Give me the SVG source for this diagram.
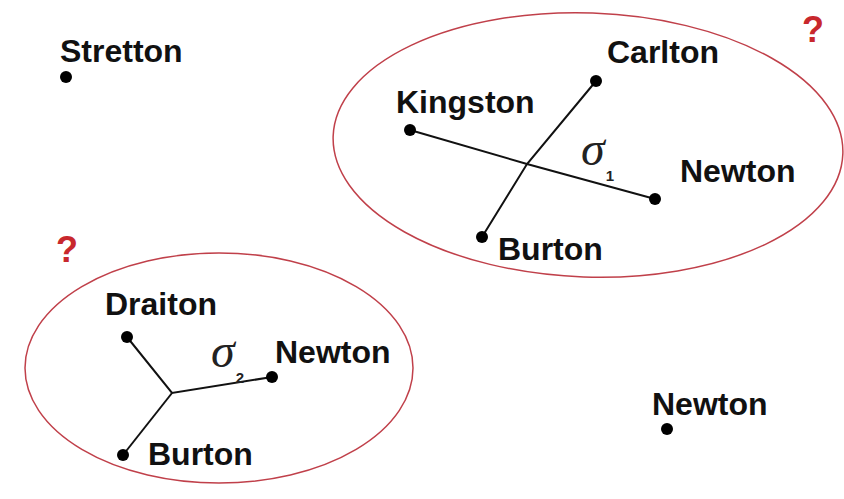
<svg xmlns="http://www.w3.org/2000/svg" width="844" height="499" viewBox="0 0 844 499">
<style>
.lbl{font-family:"Liberation Sans",Arial,sans-serif;font-weight:bold;font-size:32px;fill:#111}
.q{font-family:"Liberation Sans",Arial,sans-serif;font-weight:bold;font-size:36px;fill:#c8282d}
.sig{font-family:"Liberation Serif","Times New Roman",serif;font-style:italic;font-size:48px;fill:#222}
.sub{font-family:"Liberation Sans",Arial,sans-serif;font-size:15px;font-style:normal;font-weight:bold;fill:#222}
.dot{fill:#000}
.edge{fill:none;stroke:#111;stroke-width:2}
.grp{fill:none;stroke:#c0404a;stroke-width:1.5}
</style>
<rect width="844" height="499" fill="#fff"/>
<g id="groups">
<ellipse id="group1" class="grp" cx="588" cy="145" rx="255" ry="132" transform="rotate(2 588 145)"/>
<ellipse id="group2" class="grp" cx="219" cy="368" rx="194" ry="115"/>
<text class="q" x="802" y="42">?</text>
<text class="q" x="56" y="262">?</text>
</g>
<g id="connectors">
<polyline class="edge" points="410,130 527,164 655,199"/>
<polyline class="edge" points="596,81 527,164 482,237"/>
<polyline class="edge" points="127,337 172,393 272,377"/>
<polyline class="edge" points="172,393 123,455"/>
<text class="sig" x="581" y="165">σ<tspan class="sub" dx="1" dy="16">1</tspan></text>
<text class="sig" x="211" y="367">σ<tspan class="sub" dx="1" dy="16">2</tspan></text>
</g>
<g id="stretton"><circle class="dot" cx="66" cy="77" r="6"/><text class="lbl" x="60" y="62">Stretton</text></g>
<g id="carlton"><circle class="dot" cx="596" cy="81" r="6"/><text class="lbl" x="607" y="63">Carlton</text></g>
<g id="kingston"><circle class="dot" cx="410" cy="130" r="6"/><text class="lbl" x="396" y="113">Kingston</text></g>
<g id="newton1"><circle class="dot" cx="655" cy="199" r="6"/><text class="lbl" x="680" y="182">Newton</text></g>
<g id="burton1"><circle class="dot" cx="482" cy="237" r="6"/><text class="lbl" x="498" y="260">Burton</text></g>
<g id="draiton"><circle class="dot" cx="127" cy="337" r="6"/><text class="lbl" x="105" y="315">Draiton</text></g>
<g id="newton2"><circle class="dot" cx="272" cy="377" r="6"/><text class="lbl" x="275" y="363">Newton</text></g>
<g id="burton2"><circle class="dot" cx="123" cy="455" r="6"/><text class="lbl" x="148" y="465">Burton</text></g>
<g id="newton3"><circle class="dot" cx="667" cy="429" r="6"/><text class="lbl" x="652" y="415">Newton</text></g>
</svg>
